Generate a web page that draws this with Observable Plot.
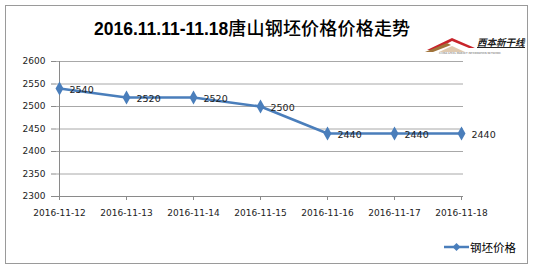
<!DOCTYPE html>
<html>
<head>
<meta charset="utf-8">
<script src="https://cdn.jsdelivr.net/npm/d3@7"></script>
<script src="https://cdn.jsdelivr.net/npm/@observablehq/plot@0.6"></script>
<style>
  html, body { margin: 0; padding: 0; background: #fff; }
  #wrap { position: relative; width: 533px; height: 270px; overflow: hidden; background: #fff; }
  #frame { position: absolute; left: 5px; top: 5px; width: 523px; height: 259px; border: 1.5px solid #9a9a9a; box-sizing: border-box; }
  #chart { position: absolute; left: 0; top: 0; }
  #title { position: absolute; left: 94px; top: 14px; white-space: nowrap; color: #000; }
  #title .lat { font-family: "Liberation Sans", Arial, sans-serif; font-weight: bold; font-size: 17.5px; }
  #title .cjk { font-family: "Noto Sans CJK SC", sans-serif; font-size: 18px; letter-spacing: 0.2px; font-weight: 500; }
  #legend { position: absolute; left: 444px; top: 239px; display: flex; align-items: center; font-family: "Noto Sans CJK SC", sans-serif; font-size: 11.5px; color: #000; white-space: nowrap; }
  #logo { position: absolute; left: 425px; top: 35px; }
</style>
</head>
<body>
<div id="wrap">
  <div id="frame"></div>
  <div id="chart"></div>
  <div id="title"></div>
  <svg id="logo" width="102" height="20" viewBox="0 0 102 20">
    <polygon points="2,15 27,3 50,13 44,13 27,6 10,15" fill="#c8242b"/>
    <polygon points="0,17 22,8 26,10 8,17" fill="#a0733a"/>
    <polygon points="14,17 27,11 40,17" fill="#c9a57a" opacity="0.6"/>
    <text x="52" y="10.5" font-family="Noto Sans CJK SC" font-weight="bold" font-style="italic" font-size="9.5" fill="#222">西本新干线</text>
    <line x1="52" y1="12.5" x2="100" y2="12.5" stroke="#222" stroke-width="1"/>
    <text x="14" y="18.5" font-family="DejaVu Sans" font-size="2.6" fill="#666">CHINA STEEL MARKET INFORMATION NETWORK</text>
  </svg>
  <div id="legend"></div>
</div>
<script>
const titleLatin = "2016.11.11-11.18";
const titleCjk = "唐山钢坯价格价格走势";
const seriesName = "钢坯价格";
const dates = ["2016-11-12", "2016-11-13", "2016-11-14", "2016-11-15", "2016-11-16", "2016-11-17", "2016-11-18"];
const prices = [2540, 2520, 2520, 2500, 2440, 2440, 2440];
const yTicks = [2300, 2350, 2400, 2450, 2500, 2550, 2600];

const blue = "#4a7ebb";
const data = dates.map((d, i) => ({date: d, price: prices[i]}));

document.getElementById("title").innerHTML =
  `<span class="lat">${titleLatin}</span><span class="cjk">${titleCjk}</span>`;

const chart = Plot.plot({
  width: 533,
  height: 270,
  marginLeft: 56,
  marginRight: 70,
  marginTop: 61,
  marginBottom: 74,
  style: {fontFamily: "DejaVu Sans, sans-serif", fontSize: "9px", background: "transparent", color: "#222", overflow: "visible"},
  x: {type: "point", domain: dates, padding: 0},
  y: {domain: [2300, 2600]},
  marks: [
    Plot.ruleY(yTicks.filter(v => v > 2300), {stroke: "#a8a8a8", strokeWidth: 1}),
    Plot.ruleY([2300], {stroke: "#8a8a8a", strokeWidth: 1}),
    Plot.ruleX([dates[0]], {stroke: "#8a8a8a", strokeWidth: 1}),
    Plot.axisY({ticks: yTicks, tickSize: 5, tickPadding: 6, stroke: "#8a8a8a", fill: "#222", label: null, tickFormat: d => String(d)}),
    Plot.axisX({tickSize: 4, tickPadding: 9, stroke: "#8a8a8a", fill: "#222", label: null}),
    Plot.line(data, {x: "date", y: "price", stroke: blue, strokeWidth: 2.5}),
    Plot.dot(data, {x: "date", y: "price", symbol: "diamond", fill: blue, r: 4.2}),
    Plot.text(data, {x: "date", y: "price", text: d => String(d.price), dx: 10, dy: 1, textAnchor: "start", fontSize: 9.5, fill: "#222"})
  ]
});
document.getElementById("chart").appendChild(chart);

// legend
const lg = document.getElementById("legend");
lg.innerHTML = `<svg width="25" height="10" style="margin-right:1px"><line x1="0" y1="5" x2="25" y2="5" stroke="${blue}" stroke-width="2.5"/><path d="M12.5,1 L16.5,5 L12.5,9 L8.5,5 Z" fill="${blue}"/></svg><span>${seriesName}</span>`;
</script>
</body>
</html>
